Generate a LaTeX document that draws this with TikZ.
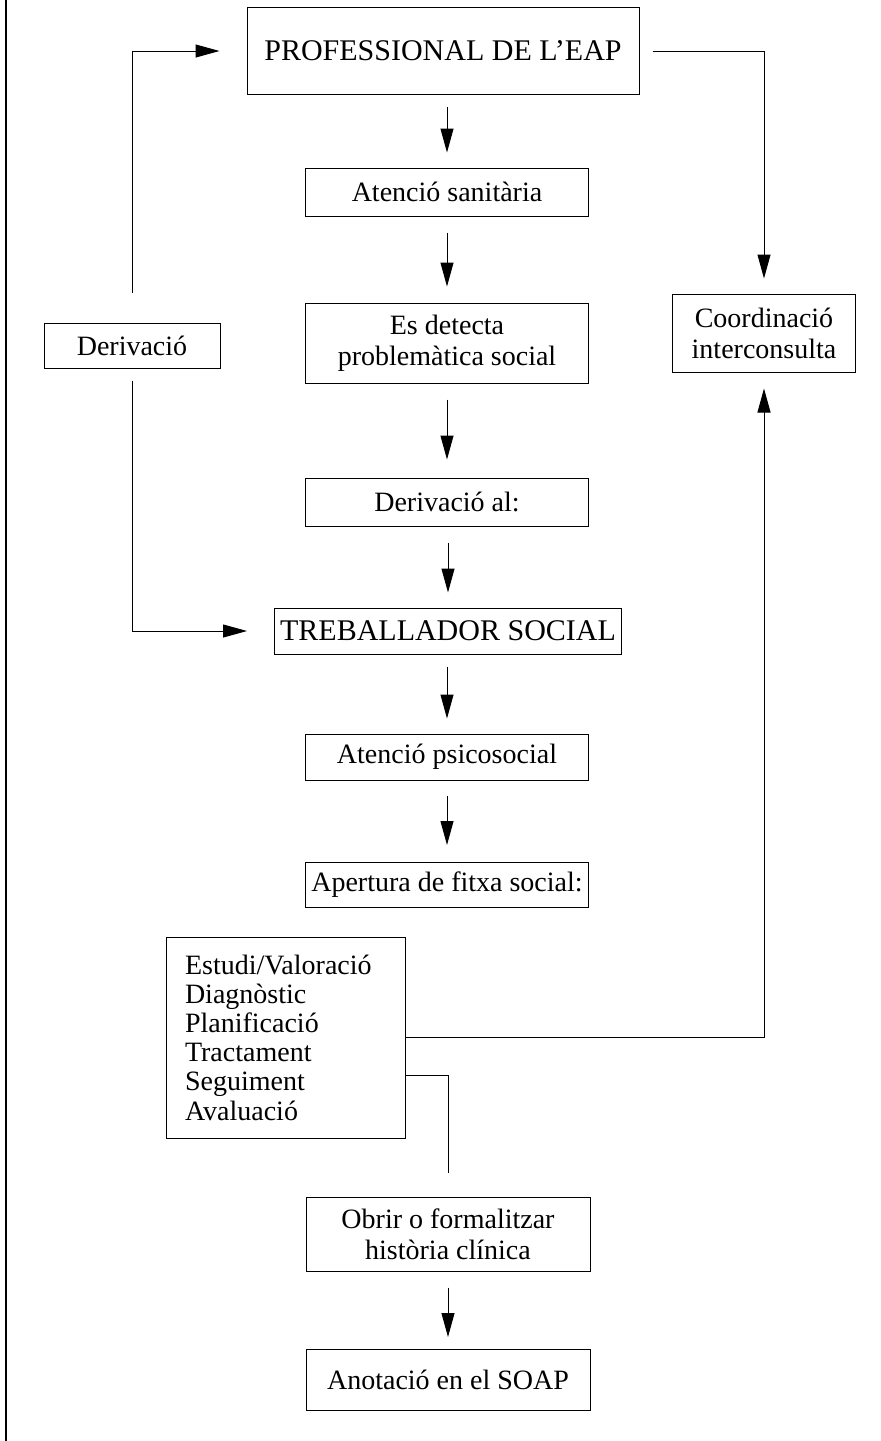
\documentclass[tikz,border=0pt]{standalone}
\usepackage{fontspec}
\setmainfont{Liberation Serif}
\usetikzlibrary{arrows.meta}
\begin{document}
\begin{tikzpicture}[x=0.5pt,y=-0.5pt,
  box/.style={draw, line width=0.5pt, align=center, inner sep=0pt, font=\fontsize{14}{15.5}\selectfont},
  big/.style={box, font=\fontsize{15}{17}\selectfont},
  arr/.style={draw, line width=0.5pt, -{Triangle[length=12pt,width=6.5pt]}},
  conn/.style={draw, line width=0.5pt},
  margin/.style={draw, line width=1pt}
]
\useasboundingbox (0,0) rectangle (881,1441);
\draw[margin] (6,0) -- (6,1441);

\node[big, minimum width=196pt, minimum height=43.5pt] (prof) at (443,51) {PROFESSIONAL DE L'EAP};
\node[box, minimum width=141.5pt, minimum height=24pt] (aten) at (447,192) {Atenció sanitària};
\node[box, minimum width=141.5pt, minimum height=40pt] (det) at (447,343) {Es detecta\\problemàtica social};
\node[box, minimum width=141.5pt, minimum height=24pt] (deral) at (447,502) {Derivació al:};
\node[big, minimum width=173.5pt, minimum height=23pt] (treb) at (448,631) {TREBALLADOR SOCIAL};
\node[box, minimum width=141.5pt, minimum height=23pt] (psico) at (447,757) {Atenció psicosocial};
\node[box, minimum width=141.5pt, minimum height=22.5pt] (apert) at (447,885) {Apertura de fitxa social:};
\node[box, align=left, text width=100.5pt, inner xsep=9.5pt, minimum height=100.5pt,
      font=\fontsize{14}{14.6}\selectfont] (list) at (285.5,1037.5)
      {Estudi/Valoració\\Diagnòstic\\Planificació\\Tractament\\Seguiment\\Avaluació};
\node[box, minimum width=142pt, minimum height=37pt] (obrir) at (448,1234) {Obrir o formalitzar\\història clínica};
\node[box, minimum width=142pt, minimum height=30.5pt] (anot) at (448,1380) {Anotació en el SOAP};
\node[box, minimum width=88pt, minimum height=22.5pt] (der) at (132,345.5) {Derivació};
\node[box, minimum width=91.5pt, minimum height=39pt] (coord) at (764,333) {Coordinació\\interconsulta};

\draw[arr, shorten <=6pt, shorten >=7.5pt] (prof.south -| aten.north) -- (aten.north);
\draw[arr, shorten <=8pt, shorten >=8pt] (aten.south) -- (det.north);
\draw[arr, shorten <=8pt, shorten >=9pt] (det.south) -- (deral.north);
\draw[arr, shorten <=8pt, shorten >=7.5pt] (deral.south -| treb.north) -- (treb.north);
\draw[arr, shorten <=6pt, shorten >=7.5pt] (treb.south -| psico.north) -- (psico.north);
\draw[arr, shorten <=7.5pt, shorten >=8.5pt] (psico.south) -- (apert.north);
\draw[arr, shorten <=8pt, shorten >=6pt] (obrir.south) -- (anot.north);

\draw[arr, shorten <=15pt, shorten >=13.5pt] (der.north) |- (prof.west);
\draw[arr, shorten <=6pt, shorten >=13.5pt] (der.south) |- (treb.west);
\draw[arr, shorten <=6.5pt, shorten >=7.5pt] (prof.east) -| (coord.north);
\draw[arr, shorten >=8pt] (list.east) -| (coord.south);
\draw[conn, shorten >=12pt] ([yshift=-19pt]list.east) -| (obrir.north);
\end{tikzpicture}
\end{document}
